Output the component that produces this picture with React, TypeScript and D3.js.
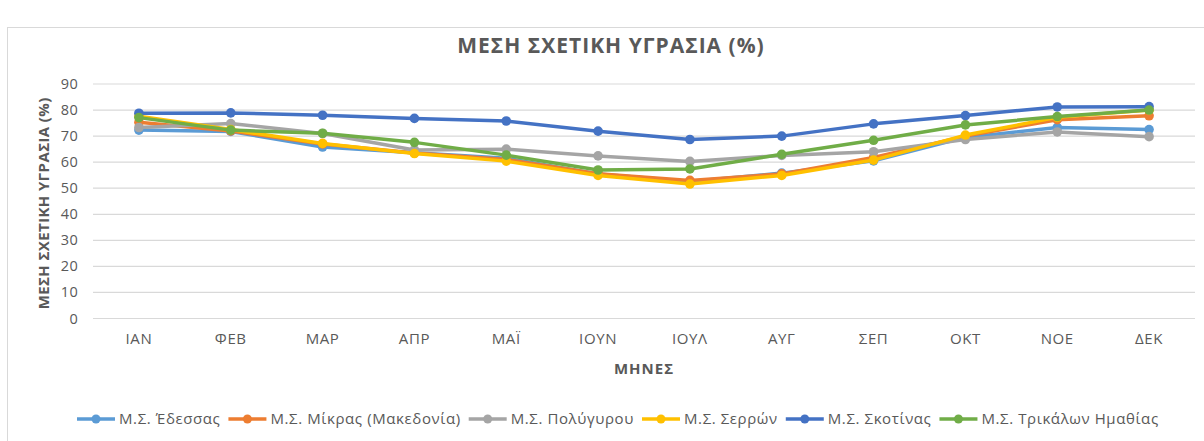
import React, { useEffect, useRef } from "react";
import * as d3 from "d3";

const months = ["ΙΑΝ", "ΦΕΒ", "ΜΑΡ", "ΑΠΡ", "ΜΑΪ", "ΙΟΥΝ", "ΙΟΥΛ", "ΑΥΓ", "ΣΕΠ", "ΟΚΤ", "ΝΟΕ", "ΔΕΚ"];
const yTicks = [0, 10, 20, 30, 40, 50, 60, 70, 80, 90];

const seriesNames = [
  "Μ.Σ. Έδεσσας",
  "Μ.Σ. Μίκρας (Μακεδονία)",
  "Μ.Σ. Πολύγυρου",
  "Μ.Σ. Σερρών",
  "Μ.Σ. Σκοτίνας",
  "Μ.Σ. Τρικάλων Ημαθίας",
];
const seriesColors = ["#5B9BD5", "#ED7D31", "#A5A5A5", "#FFC000", "#4472C4", "#70AD47"];

const edessa = [72.3, 71.8, 65.8, 63.6, 61.5, 55.5, 52.6, 55.8, 60.5, 69.5, 73.3, 72.5];
const mikra = [75.3, 72.0, 67.0, 63.5, 61.0, 55.6, 53.0, 55.5, 61.8, 70.0, 76.3, 77.8];
const polygyros = [73.3, 74.8, 71.0, 64.7, 65.0, 62.4, 60.3, 62.6, 64.0, 68.7, 71.6, 69.8];
const serres = [77.6, 72.5, 67.2, 63.3, 60.4, 54.9, 51.6, 54.9, 60.8, 70.4, 77.2, 80.0];
const skotina = [78.8, 78.9, 78.0, 76.8, 75.8, 71.9, 68.7, 70.0, 74.7, 77.9, 81.2, 81.3];
const trikala = [77.1, 72.3, 71.1, 67.6, 62.7, 57.0, 57.4, 63.0, 68.4, 74.3, 77.5, 80.0];

const seriesValues = [edessa, mikra, polygyros, serres, skotina, trikala];

const W = 1204;
const H = 441;
const FONT = "'Open Sans', 'DejaVu Sans', sans-serif";
const TEXT = "#595959";

export default function App() {
  const ref = useRef<SVGSVGElement | null>(null);

  useEffect(() => {
    const svg = d3.select(ref.current);
    svg.selectAll("*").remove();

    const left = 93, right = 1195, top = 84, bottom = 318.5;

    // frame
    svg.append("rect")
      .attr("x", 7.5).attr("y", 27.5).attr("width", W).attr("height", H)
      .attr("fill", "#fff").attr("stroke", "#d9d9d9").attr("stroke-width", 1);

    const x = d3.scaleBand<string>().domain(months).range([left, right]).padding(0);
    const y = d3.scaleLinear().domain([0, 90]).range([bottom, top]);
    const cx = (m: string) => (x(m) as number) + x.bandwidth() / 2;

    // title
    svg.append("text")
      .attr("x", 611).attr("y", 53)
      .attr("text-anchor", "middle")
      .attr("font-family", FONT).attr("font-size", 21).attr("font-weight", 700)
      .attr("letter-spacing", 1)
      .attr("fill", TEXT)
      .text("ΜΕΣΗ ΣΧΕΤΙΚΗ ΥΓΡΑΣΙΑ (%)");

    // grid
    const g = svg.append("g");
    g.selectAll("line.grid").data(yTicks).enter().append("line")
      .attr("x1", left).attr("x2", right)
      .attr("y1", (d) => y(d)).attr("y2", (d) => y(d))
      .attr("stroke", "#d9d9d9").attr("stroke-width", 1.2);

    g.selectAll("text.yt").data(yTicks).enter().append("text")
      .attr("x", 78).attr("y", (d) => y(d) + 5)
      .attr("text-anchor", "end")
      .attr("font-family", FONT).attr("font-size", 14.5)
      .attr("letter-spacing", 0.3)
      .attr("fill", TEXT)
      .text((d) => String(d));

    g.selectAll("text.xt").data(months).enter().append("text")
      .attr("x", (d) => cx(d)).attr("y", 344)
      .attr("text-anchor", "middle")
      .attr("font-family", FONT).attr("font-size", 15)
      .attr("letter-spacing", 0.6)
      .attr("fill", TEXT)
      .text((d) => d);

    // axis titles
    svg.append("text")
      .attr("x", 644).attr("y", 374)
      .attr("text-anchor", "middle")
      .attr("font-family", FONT).attr("font-size", 15).attr("font-weight", 700)
      .attr("letter-spacing", 1)
      .attr("fill", TEXT)
      .text("ΜΗΝΕΣ");

    svg.append("text")
      .attr("transform", `translate(49, ${(top + bottom) / 2 + 2}) rotate(-90)`)
      .attr("text-anchor", "middle")
      .attr("font-family", FONT).attr("font-size", 15).attr("font-weight", 700)
      .attr("letter-spacing", 0.4)
      .attr("fill", TEXT)
      .text("ΜΕΣΗ ΣΧΕΤΙΚΗ ΥΓΡΑΣΙΑ (%)");

    // series
    const line = d3.line<number>()
      .x((_, i) => cx(months[i]))
      .y((d) => y(d));

    seriesValues.forEach((vals, si) => {
      const sg = svg.append("g");
      sg.append("path")
        .attr("d", line(vals) as string)
        .attr("fill", "none")
        .attr("stroke", seriesColors[si])
        .attr("stroke-width", 3.5)
        .attr("stroke-linejoin", "round")
        .attr("stroke-linecap", "round");
      sg.selectAll("circle").data(vals).enter().append("circle")
        .attr("cx", (_, i) => cx(months[i]))
        .attr("cy", (d) => y(d))
        .attr("r", 4.8)
        .attr("fill", seriesColors[si]);
    });

    // legend
    const lg = svg.append("g");
    let lx = 77;
    const ly = 419;
    seriesNames.forEach((name, i) => {
      const item = lg.append("g");
      item.append("line")
        .attr("x1", lx).attr("x2", lx + 38)
        .attr("y1", ly).attr("y2", ly)
        .attr("stroke", seriesColors[i]).attr("stroke-width", 3.5);
      item.append("circle")
        .attr("cx", lx + 19).attr("cy", ly).attr("r", 4.5)
        .attr("fill", seriesColors[i]);
      const t = item.append("text")
        .attr("x", lx + 42).attr("y", ly + 5)
        .attr("font-family", FONT).attr("font-size", 15)
        .attr("letter-spacing", 0.6)
        .attr("fill", TEXT)
        .text(name);
      const w = (t.node() as SVGTextElement).getComputedTextLength();
      lx += 42 + w + 8;
    });
  }, []);

  return (
    <svg
      ref={ref}
      width={W}
      height={H}
      style={{ position: "fixed", left: 0, top: 0, background: "#fff" }}
    />
  );
}
